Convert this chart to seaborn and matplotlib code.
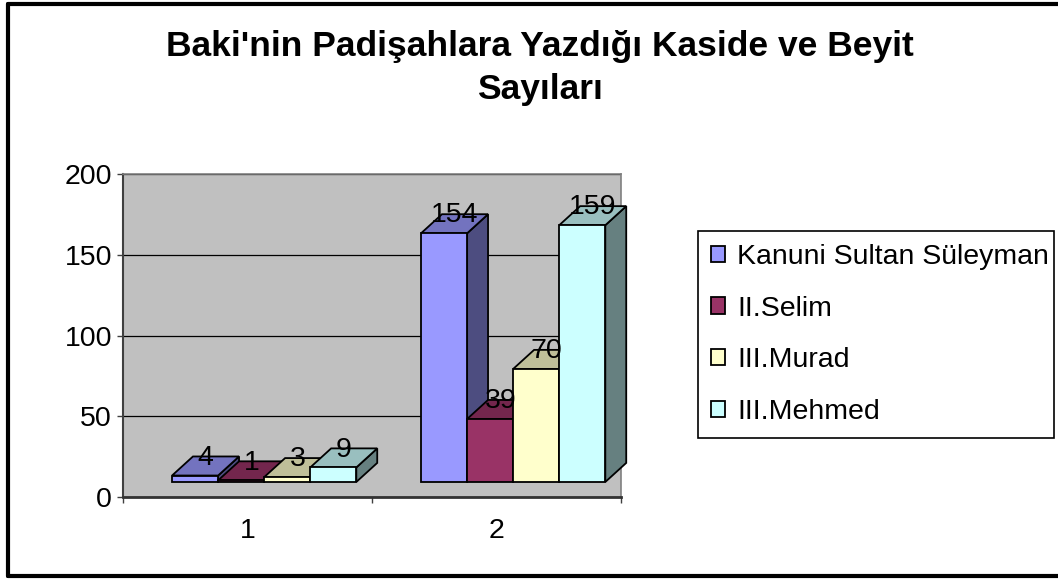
import pandas as pd
import matplotlib
matplotlib.use("Agg")
import matplotlib.pyplot as plt
import seaborn as sns
from matplotlib.patches import Polygon, Patch, Rectangle
from matplotlib.lines import Line2D

# ---- data ----
gruplar = ["1", "2"]
padisahlar = ["Kanuni Sultan Süleyman", "II.Selim", "III.Murad", "III.Mehmed"]
kanuni = [4, 154]
selim = [1, 39]
murad = [3, 70]
mehmed = [9, 159]

renkler = ["#9999FF", "#993366", "#FFFFCC", "#CCFFFF"]
ust_renk = ["#7373BF", "#73264D", "#BFBF99", "#99BFBF"]
yan_renk = ["#4D4D80", "#4D1A33", "#808066", "#668080"]

rows = []
for ad, vals in zip(padisahlar, [kanuni, selim, murad, mehmed]):
    for g, v in zip(gruplar, vals):
        rows.append({"grup": g, "padisah": ad, "deger": v})
df = pd.DataFrame(rows)

sns.set_style("white")
plt.rcParams["font.family"] = ["Liberation Sans", "DejaVu Sans"]
plt.rcParams["text.color"] = "black"
plt.rcParams["xtick.color"] = "black"
plt.rcParams["ytick.color"] = "black"

W, H = 1058, 579
fig = plt.figure(figsize=(W / 100, H / 100), dpi=100)
ax = fig.add_axes([123 / W, 82 / H, 498 / W, 323 / H])

sns.barplot(data=df, x="grup", y="deger", hue="padisah", hue_order=padisahlar,
            order=gruplar, palette=renkler, saturation=1, width=0.74,
            edgecolor="black", linewidth=1.3, legend=False, ax=ax, zorder=2)

ax.set_xlim(-0.5, 1.5)
ax.set_ylim(0, 200)
ax.set_facecolor("#C0C0C0")
ax.set_axisbelow(True)
ax.yaxis.grid(True, color="black", linewidth=0.9)
ax.xaxis.grid(False)
ax.set_xlabel("")
ax.set_ylabel("")

# fake 3D look: floor, shift and depth (in data units)
floor = 9.3
shift = 0.067
dx, dy = 0.084, 11.8

bars = []
for i, cont in enumerate(ax.containers):
    for rect in cont:
        bars.append((rect, i))
bars.sort(key=lambda b: b[0].get_x())

z = 3
for rect, i in bars:
    x0 = rect.get_x() + shift
    w = rect.get_width()
    h = rect.get_height()
    rect.set_x(x0)
    rect.set_y(floor)
    rect.set_zorder(z + 2)
    rect.set_clip_on(False)
    y1 = floor + h
    x1 = x0 + w
    side = Polygon([(x1, floor), (x1 + dx, floor + dy), (x1 + dx, y1 + dy), (x1, y1)],
                   closed=True, facecolor=yan_renk[i], edgecolor="black",
                   linewidth=1.3, zorder=z, clip_on=False)
    top = Polygon([(x0, y1), (x1, y1), (x1 + dx, y1 + dy), (x0 + dx, y1 + dy)],
                  closed=True, facecolor=ust_renk[i], edgecolor="black",
                  linewidth=1.3, zorder=z + 1, clip_on=False)
    ax.add_patch(side)
    ax.add_patch(top)
    ax.annotate(f"{h:g}", (x0 + w / 2 + dx / 2, y1 + dy / 2), xytext=(0, 6),
                textcoords="offset points", ha="center", va="center",
                fontsize=20.5, color="black", zorder=50, annotation_clip=False)
    z += 3

# axes styling
for s in ["top", "right"]:
    ax.spines[s].set_color("#808080")
    ax.spines[s].set_linewidth(1.2)
ax.spines["left"].set_color("#404040")
ax.spines["left"].set_linewidth(1.5)
ax.spines["bottom"].set_color("#333333")
ax.spines["bottom"].set_linewidth(2)

ax.set_yticks([0, 50, 100, 150, 200])
ax.tick_params(axis="y", length=4.5, width=1, color="#404040", pad=3.5,
               labelsize=20.5, left=True, direction="out")
ax.set_xticks([0, 1])
ax.set_xticklabels(gruplar)
ax.set_xticks([-0.5, 0.5, 1.5], minor=True)
ax.tick_params(axis="x", which="major", length=0, pad=15, labelsize=20.5)
ax.tick_params(axis="x", which="minor", length=4.5, width=1, color="#404040",
               bottom=True, direction="out")

# legend (frame drawn separately)
handles = [Patch(facecolor=c, edgecolor="black", linewidth=1.3) for c in renkler]
leg = fig.legend(handles, padisahlar, loc="upper left",
                 bbox_to_anchor=(711 / W, (H - 244) / H), frameon=False,
                 fontsize=20.5, handlelength=0.5, handleheight=0.5,
                 handletextpad=0.42, labelspacing=0.9, borderpad=0,
                 borderaxespad=0)
fig.add_artist(Rectangle((698 / W, (H - 438) / H), 356 / W, 207 / H,
                         transform=fig.transFigure, facecolor="none",
                         edgecolor="black", linewidth=1.2))

# title
fig.text(540 / W, (H - 68) / H, "Baki'nin Padişahlara Yazdığı Kaside ve Beyit\nSayıları",
         ha="center", va="center", fontsize=25.5, fontweight="bold", linespacing=1.4)

# outer chart border
for xs, ys in [([7.5 / W, 7.5 / W], [3.5 / H, 1 - 3.5 / H]),
               ([7.5 / W, 1.01], [1 - 3.5 / H, 1 - 3.5 / H]),
               ([7.5 / W, 1.01], [3.5 / H, 3.5 / H])]:
    fig.add_artist(Line2D(xs, ys, color="black", linewidth=3))

fig.savefig("out.png", dpi=100)
